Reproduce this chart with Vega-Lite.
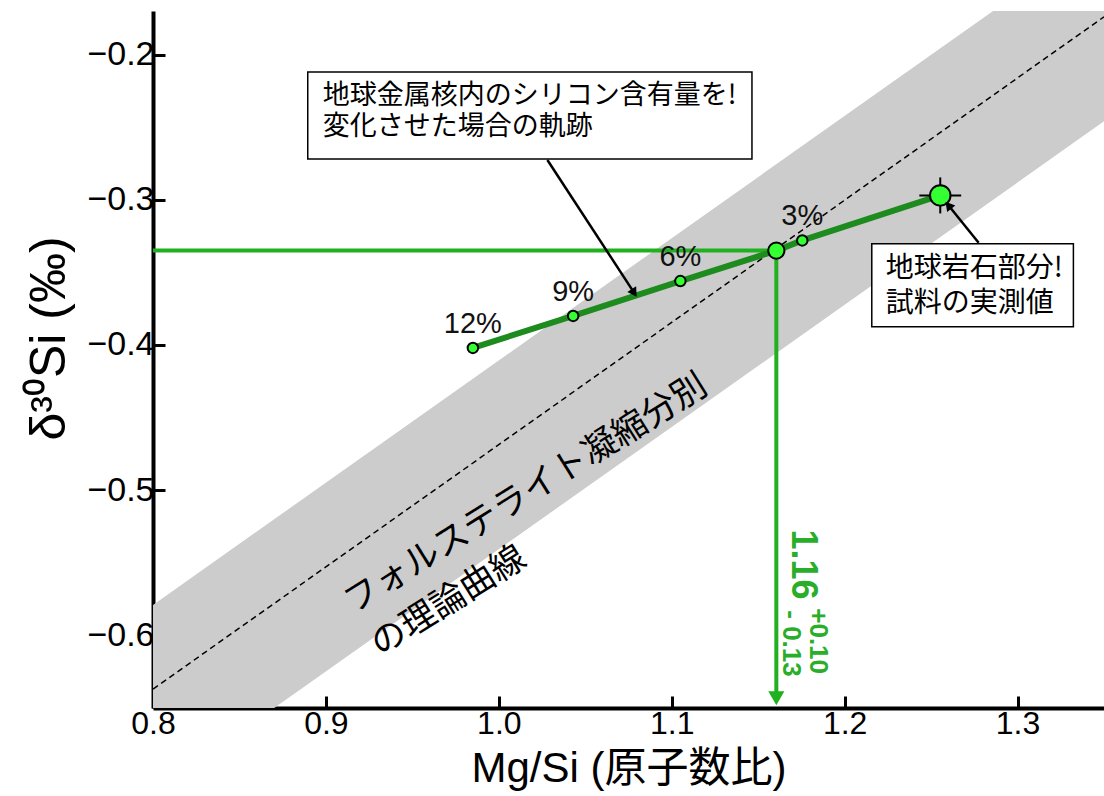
{
  "$schema": "https://vega.github.io/schema/vega-lite/v6.json",
  "width": 951,
  "height": 697,
  "autosize": {"type": "none"},
  "padding": {"left": 153, "top": 11, "right": 0, "bottom": 88},
  "background": "white",
  "config": {
    "view": {"stroke": null},
    "axis": {
      "grid": false,
      "domainColor": "black",
      "domainWidth": 4,
      "tickColor": "black",
      "tickWidth": 3,
      "tickSize": -12,
      "labelFont": "Liberation Sans",
      "labelFontSize": 32,
      "labelColor": "black",
      "labelFlush": false,
      "titleColor": "black",
      "titleFont": "Liberation Sans, Noto Sans CJK JP",
      "titleFontWeight": "normal"
    }
  },
  "datasets": {
    "band": [
      {"x": 0.8, "y": -0.709, "y2": -0.579},
      {"x": 1.35, "y": -0.246, "y2": -0.116}
    ],
    "theory": [
      {"x": 0.8, "y": -0.637},
      {"x": 1.35, "y": -0.174}
    ],
    "points": [
      {"x": 0.985, "y": -0.402, "kind": "model", "label": "12%"},
      {"x": 1.043, "y": -0.380, "kind": "model", "label": "9%"},
      {"x": 1.105, "y": -0.356, "kind": "model", "label": "6%"},
      {"x": 1.1605, "y": -0.335, "kind": "result", "label": ""},
      {"x": 1.1755, "y": -0.328, "kind": "model", "label": "3%"},
      {"x": 1.2553, "y": -0.297, "kind": "measured", "label": ""}
    ],
    "guideH": [{"x": 0.8, "x2": 1.1605, "y": -0.335}],
    "guideV": [{"x": 1.1605, "y": -0.335, "y2": -0.64}],
    "guideTip": [{"x": 1.1605, "y": -0.6433}],
    "errX": [{"x": 1.2432, "x2": 1.2674, "y": -0.297}],
    "errY": [{"x": 1.2553, "y": -0.2846, "y2": -0.3094}],
    "arrows": [
      {"x": 1.0281, "y": -0.2726, "x2": 1.0783, "y2": -0.3641},
      {"x": 1.2775, "y": -0.3296, "x2": 1.2600, "y2": -0.3038}
    ],
    "tip1": [{"x": 1.0783, "y": -0.3641}],
    "tip2": [{"x": 1.2600, "y": -0.3038}],
    "boxes": [
      {"x": 0.8895, "x2": 1.1464, "y": -0.2120, "y2": -0.2719},
      {"x": 1.2157, "x2": 1.3323, "y": -0.3303, "y2": -0.3874}
    ],
    "note1": [{"x": 0.8982, "y": -0.2196, "text": ["地球金属核内のシリコン含有量を!", "変化させた場合の軌跡"]}],
    "note2": [{"x": 1.2238, "y": -0.3379, "text": ["地球岩石部分!", "試料の実測値"]}],
    "curveNote": [{"x": 0.9160, "y": -0.5855, "text": ["フォルステライト凝縮分別", "の理論曲線"]}],
    "resMain": [{"x": 1.1759, "y": -0.527, "text": "1.16"}],
    "resPlus": [{"x": 1.1845, "y": -0.5813, "text": "+0.10"}],
    "resMinus": [{"x": 1.1689, "y": -0.5827, "text": "- 0.13"}]
  },
  "encoding": {
    "x": {
      "field": "x", "type": "quantitative",
      "scale": {"domain": [0.8, 1.35], "nice": false, "zero": false},
      "axis": {
        "title": "Mg/Si (原子数比)",
        "values": [0.8, 0.9, 1.0, 1.1, 1.2, 1.3],
        "format": ".1f",
        "labelPadding": 12,
        "titleFontSize": 42,
        "titlePadding": 9
      }
    },
    "y": {
      "field": "y", "type": "quantitative",
      "scale": {"domain": [-0.65, -0.17], "nice": false, "zero": false},
      "axis": {
        "title": "δ³⁰Si (‰)",
        "values": [-0.6, -0.5, -0.4, -0.3, -0.2],
        "format": ".1f",
        "labelExpr": "replace(datum.label, '-', '−')",
        "labelFontSize": 34,
        "labelPadding": 11,
        "titleFontSize": 50,
        "titlePadding": 12,
        "titleY": 327
      }
    }
  },
  "layer": [
    {
      "data": {"name": "band"},
      "mark": {"type": "area", "color": "#cccccc", "clip": true, "opacity": 1},
      "encoding": {"y2": {"field": "y2"}}
    },
    {
      "data": {"name": "theory"},
      "mark": {"type": "line", "color": "black", "strokeWidth": 1.5, "strokeDash": [6, 4], "clip": true}
    },
    {
      "data": {"name": "guideH"},
      "mark": {"type": "rule", "color": "#21b01f", "strokeWidth": 4},
      "encoding": {"x2": {"field": "x2"}}
    },
    {
      "data": {"name": "guideV"},
      "mark": {"type": "rule", "color": "#21b01f", "strokeWidth": 4},
      "encoding": {"y2": {"field": "y2"}}
    },
    {
      "data": {"name": "guideTip"},
      "mark": {"type": "point", "shape": "triangle-down", "filled": true, "color": "#21b01f", "size": 260, "opacity": 1}
    },
    {
      "data": {"name": "points"},
      "mark": {"type": "line", "color": "#1d8b1d", "strokeWidth": 6}
    },
    {
      "data": {"name": "errX"},
      "mark": {"type": "rule", "color": "black", "strokeWidth": 2},
      "encoding": {"x2": {"field": "x2"}}
    },
    {
      "data": {"name": "errY"},
      "mark": {"type": "rule", "color": "black", "strokeWidth": 2},
      "encoding": {"y2": {"field": "y2"}}
    },
    {
      "data": {"name": "points"},
      "mark": {"type": "point", "filled": true, "fill": "#33ff33", "stroke": "black", "strokeWidth": 2, "opacity": 1},
      "encoding": {
        "size": {
          "field": "kind", "type": "nominal",
          "scale": {"domain": ["model", "result", "measured"], "range": [110, 420, 420]},
          "legend": null
        }
      }
    },
    {
      "data": {"name": "points"},
      "transform": [{"filter": "datum.label != ''"}],
      "mark": {"type": "text", "font": "Liberation Sans", "fontSize": 29, "color": "#111111", "dy": -24, "align": "center", "baseline": "middle"},
      "encoding": {"text": {"field": "label"}}
    },
    {
      "data": {"name": "arrows"},
      "mark": {"type": "rule", "color": "black", "strokeWidth": 2.5},
      "encoding": {"x2": {"field": "x2"}, "y2": {"field": "y2"}}
    },
    {
      "data": {"name": "tip1"},
      "mark": {"type": "point", "shape": "triangle-up", "filled": true, "color": "black", "size": 110, "angle": 147, "opacity": 1}
    },
    {
      "data": {"name": "tip2"},
      "mark": {"type": "point", "shape": "triangle-up", "filled": true, "color": "black", "size": 110, "angle": 321, "opacity": 1}
    },
    {
      "data": {"name": "boxes"},
      "mark": {"type": "rect", "fill": "white", "stroke": "black", "strokeWidth": 1.5},
      "encoding": {"x2": {"field": "x2"}, "y2": {"field": "y2"}}
    },
    {
      "data": {"name": "note1"},
      "mark": {"type": "text", "font": "Noto Sans CJK JP", "fontSize": 27, "lineHeight": 31, "align": "left", "baseline": "top", "color": "black"},
      "encoding": {"text": {"field": "text"}}
    },
    {
      "data": {"name": "note2"},
      "mark": {"type": "text", "font": "Noto Sans CJK JP", "fontSize": 28, "lineHeight": 35, "align": "left", "baseline": "top", "color": "black"},
      "encoding": {"text": {"field": "text"}}
    },
    {
      "data": {"name": "curveNote"},
      "mark": {"type": "text", "font": "Noto Sans CJK JP", "fontSize": 35, "lineHeight": 50, "align": "left", "baseline": "alphabetic", "angle": 328, "color": "black"},
      "encoding": {"text": {"field": "text"}}
    },
    {
      "data": {"name": "resMain"},
      "mark": {"type": "text", "font": "Liberation Sans", "fontWeight": "bold", "fontSize": 36, "align": "left", "baseline": "middle", "angle": 90, "color": "#2aae2a"},
      "encoding": {"text": {"field": "text"}}
    },
    {
      "data": {"name": "resPlus"},
      "mark": {"type": "text", "font": "Liberation Sans", "fontWeight": "bold", "fontSize": 26, "align": "left", "baseline": "middle", "angle": 90, "color": "#2aae2a"},
      "encoding": {"text": {"field": "text"}}
    },
    {
      "data": {"name": "resMinus"},
      "mark": {"type": "text", "font": "Liberation Sans", "fontWeight": "bold", "fontSize": 26, "align": "left", "baseline": "middle", "angle": 90, "color": "#2aae2a"},
      "encoding": {"text": {"field": "text"}}
    }
  ]
}
